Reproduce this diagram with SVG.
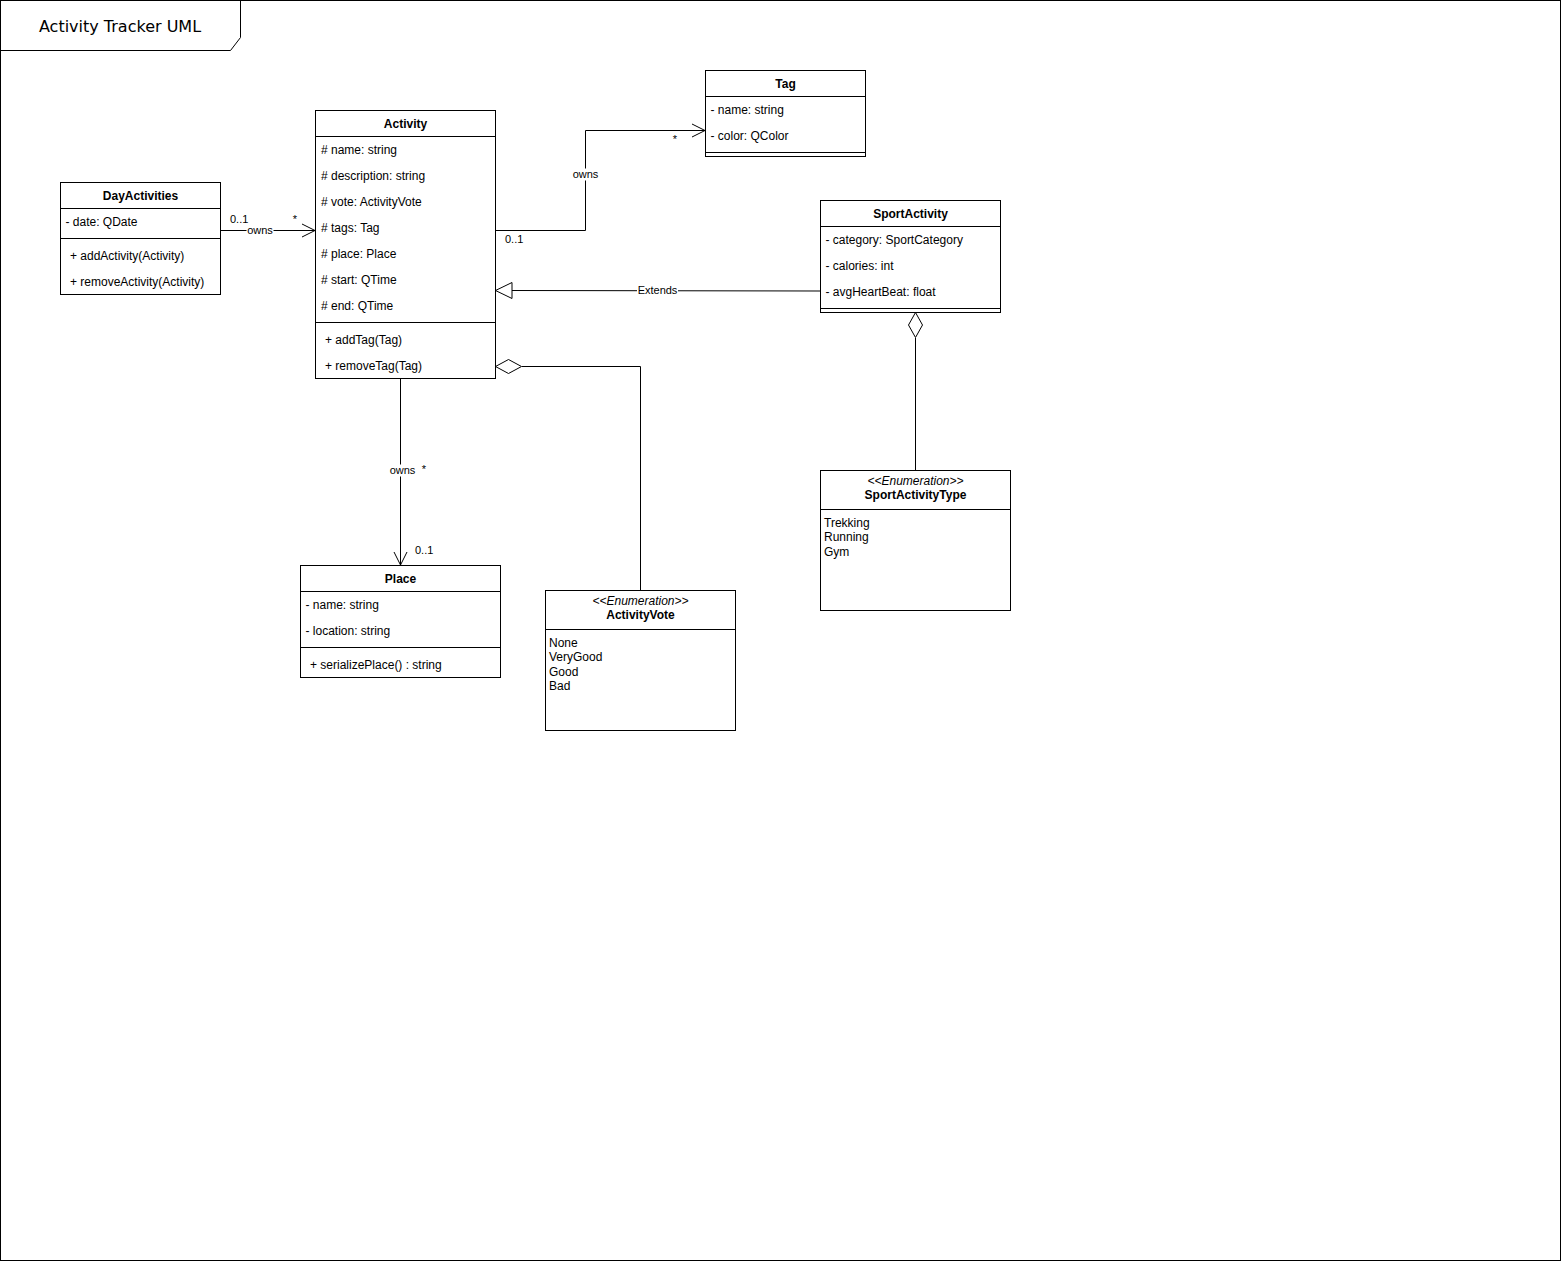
<svg xmlns="http://www.w3.org/2000/svg" width="1561" height="1261" viewBox="0 0 1561 1261">
  <style>
    .box { fill: #ffffff; stroke: #000000; stroke-width: 1; }
    .sep { fill: none; stroke: #000000; stroke-width: 1; }
    .t { font-family: "Liberation Sans", Arial, Helvetica, sans-serif; font-size: 12px; fill: #000000; }
    .b { font-weight: bold; text-anchor: middle; }
    .st { font-style: italic; text-anchor: middle; }
    .lbl { font-family: "Liberation Sans", Arial, Helvetica, sans-serif; font-size: 11px; fill: #000000; }
    .mid { text-anchor: middle; }
    .edge { fill: none; stroke: #000000; stroke-width: 1; }
    .hollow { fill: #ffffff; stroke: #000000; stroke-width: 1; }
    .bg { fill: #ffffff; }
  </style>

  <rect width="1561" height="1261" fill="#ffffff"/>

  <!-- UML frame -->
  <g id="frame">
    <rect x="0.5" y="0.5" width="1560" height="1260" class="sep"/>
    <path d="M0.5,50.5 H230.5 L240.5,37.5 V0.5" class="sep"/>
    <text x="120" y="32" text-anchor="middle" font-family="'DejaVu Sans', Verdana, sans-serif" font-size="16">Activity Tracker UML</text>
  </g>

  <!-- connectors -->
  <g id="connectors">
    <!-- DayActivities owns Activity -->
    <path d="M220.5,230.5 H315" class="edge"/>
    <path d="M302,224 L315,230.5 L302,237" class="edge"/>
    <rect x="246.5" y="225" width="27" height="11" class="bg"/>
    <text x="260" y="233.5" class="lbl mid">owns</text>
    <text x="230" y="223" class="lbl">0..1</text>
    <text x="295" y="223" class="lbl mid">*</text>

    <!-- Activity owns Tag -->
    <path d="M495.5,230.5 H585.5 V130.5 H705" class="edge"/>
    <path d="M692,124 L705,130.5 L692,137" class="edge"/>
    <rect x="571.5" y="168.5" width="28" height="12" class="bg"/>
    <text x="585.5" y="177.5" class="lbl mid">owns</text>
    <text x="505" y="243" class="lbl">0..1</text>
    <text x="675" y="143" class="lbl mid">*</text>

    <!-- SportActivity extends Activity -->
    <path d="M820,291 L512,290.5" class="edge"/>
    <path d="M495.5,290.5 L512,282.5 L512,298.5 Z" class="hollow"/>
    <rect x="637" y="285" width="41" height="11" class="bg"/>
    <text x="657.5" y="293.5" class="lbl mid">Extends</text>

    <!-- ActivityVote aggregated in Activity -->
    <path d="M640.5,590 V366.5 H522" class="edge"/>
    <path d="M495.5,366.5 L508.5,359.5 L521.5,366.5 L508.5,373.5 Z" class="hollow"/>

    <!-- SportActivityType aggregated in SportActivity -->
    <path d="M915.5,470 V338" class="edge"/>
    <path d="M915.5,312.5 L922.5,325 L915.5,337.5 L908.5,325 Z" class="hollow"/>

    <!-- Activity owns Place -->
    <path d="M400.5,378 V565" class="edge"/>
    <path d="M394,552 L400.5,565 L407,552" class="edge"/>
    <rect x="388.5" y="464.5" width="28" height="12" class="bg"/>
    <text x="402.5" y="473.5" class="lbl mid">owns</text>
    <text x="424" y="473" class="lbl mid">*</text>
    <text x="415" y="554" class="lbl">0..1</text>
  </g>

  <!-- DayActivities -->
  <g id="DayActivities">
    <rect x="60.5" y="182.5" width="160" height="112" class="box"/>
    <path d="M60.5,208.5 H220.5 M60.5,238.5 H220.5" class="sep"/>
    <text x="140.5" y="200" class="t b">DayActivities</text>
    <text x="65.5" y="226" class="t">- date: QDate</text>
    <text x="70" y="260" class="t">+ addActivity(Activity)</text>
    <text x="70" y="286" class="t">+ removeActivity(Activity)</text>
  </g>

  <!-- Activity -->
  <g id="Activity">
    <rect x="315.5" y="110.5" width="180" height="268" class="box"/>
    <path d="M315.5,136.5 H495.5 M315.5,322.5 H495.5" class="sep"/>
    <text x="405.5" y="128" class="t b">Activity</text>
    <text x="321" y="154" class="t"># name: string</text>
    <text x="321" y="180" class="t"># description: string</text>
    <text x="321" y="206" class="t"># vote: ActivityVote</text>
    <text x="321" y="232" class="t"># tags: Tag</text>
    <text x="321" y="258" class="t"># place: Place</text>
    <text x="321" y="284" class="t"># start: QTime</text>
    <text x="321" y="310" class="t"># end: QTime</text>
    <text x="325" y="344" class="t">+ addTag(Tag)</text>
    <text x="325" y="370" class="t">+ removeTag(Tag)</text>
  </g>

  <!-- Tag -->
  <g id="Tag">
    <rect x="705.5" y="70.5" width="160" height="86" class="box"/>
    <path d="M705.5,96.5 H865.5 M705.5,152.5 H865.5" class="sep"/>
    <text x="785.5" y="88" class="t b">Tag</text>
    <text x="710.5" y="114" class="t">- name: string</text>
    <text x="710.5" y="140" class="t">- color: QColor</text>
  </g>

  <!-- SportActivity -->
  <g id="SportActivity">
    <rect x="820.5" y="200.5" width="180" height="112" class="box"/>
    <path d="M820.5,226.5 H1000.5 M820.5,308.5 H1000.5" class="sep"/>
    <text x="910.5" y="218" class="t b">SportActivity</text>
    <text x="825.5" y="244" class="t">- category: SportCategory</text>
    <text x="825.5" y="270" class="t">- calories: int</text>
    <text x="825.5" y="296" class="t">- avgHeartBeat: float</text>
  </g>

  <!-- SportActivityType -->
  <g id="SportActivityType">
    <rect x="820.5" y="470.5" width="190" height="140" class="box"/>
    <path d="M820.5,509.5 H1010.5" class="sep"/>
    <text x="915.5" y="485" class="t st">&lt;&lt;Enumeration&gt;&gt;</text>
    <text x="915.5" y="499" class="t b">SportActivityType</text>
    <text x="824" y="527" class="t">Trekking</text>
    <text x="824" y="541.4" class="t">Running</text>
    <text x="824" y="555.8" class="t">Gym</text>
  </g>

  <!-- Place -->
  <g id="Place">
    <rect x="300.5" y="565.5" width="200" height="112" class="box"/>
    <path d="M300.5,591.5 H500.5 M300.5,647.5 H500.5" class="sep"/>
    <text x="400.5" y="583" class="t b">Place</text>
    <text x="305.5" y="609" class="t">- name: string</text>
    <text x="305.5" y="635" class="t">- location: string</text>
    <text x="310" y="669" class="t">+ serializePlace() : string</text>
  </g>

  <!-- ActivityVote -->
  <g id="ActivityVote">
    <rect x="545.5" y="590.5" width="190" height="140" class="box"/>
    <path d="M545.5,629.5 H735.5" class="sep"/>
    <text x="640.5" y="605" class="t st">&lt;&lt;Enumeration&gt;&gt;</text>
    <text x="640.5" y="619" class="t b">ActivityVote</text>
    <text x="549" y="647" class="t">None</text>
    <text x="549" y="661.4" class="t">VeryGood</text>
    <text x="549" y="675.8" class="t">Good</text>
    <text x="549" y="690.2" class="t">Bad</text>
  </g>
</svg>
